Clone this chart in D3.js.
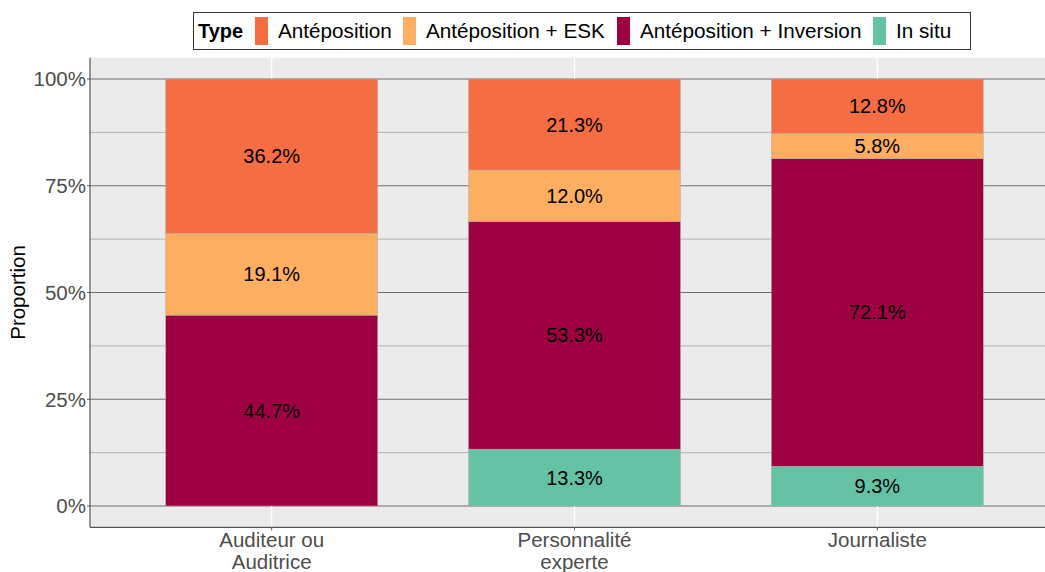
<!DOCTYPE html>
<html><head><meta charset="utf-8">
<script src="https://cdn.jsdelivr.net/npm/d3@7"></script>
<style>body{margin:0;background:#fff}svg{display:block;font-family:"Liberation Sans",Arial,sans-serif}</style>
</head><body><svg id="c" width="1045" height="572"></svg>
<script>
const categories = ["Auditeur ou\nAuditrice", "Personnalité\nexperte", "Journaliste"];
const types = ["Antéposition", "Antéposition + ESK", "Antéposition + Inversion", "In situ"];
const colors = ["#F46D43", "#FDAE61", "#9E0142", "#66C2A5"];
const anteposition = [36.2, 21.3, 12.8];
const antepositionESK = [19.1, 12.0, 5.8];
const antepositionInversion = [44.7, 53.3, 72.1];
const inSitu = [0, 13.3, 9.3];
const yTicks = [0, 0.25, 0.5, 0.75, 1];
const yTickLabels = ["0%", "25%", "50%", "75%", "100%"];

const series = [anteposition, antepositionESK, antepositionInversion, inSitu];
const svg = d3.select("#c");
const P = {l: 90, r: 1059, t: 57.65, b: 527.35};
const step = (P.r - P.l) / 3.2;
const x = d3.scaleBand().domain(categories).range([P.l + 0.1*step, P.r - 0.1*step]).paddingInner(0.3).paddingOuter(0.15);
const y = d3.scaleLinear().domain([-0.05, 1.05]).range([P.b, P.t]);

svg.append("rect").attr("x", P.l).attr("y", P.t).attr("width", P.r - P.l).attr("height", P.b - P.t).attr("fill", "#EBEBEB");
const minors = [0.125, 0.375, 0.625, 0.875];
svg.selectAll(".mg").data(minors).enter().append("line")
  .attr("x1", P.l).attr("x2", P.r).attr("y1", d => y(d)).attr("y2", d => y(d))
  .attr("stroke", "#9a9a9a").attr("stroke-width", 0.7);
svg.selectAll(".Mg").data(yTicks).enter().append("line")
  .attr("x1", P.l).attr("x2", P.r).attr("y1", d => y(d)).attr("y2", d => y(d))
  .attr("stroke", "#6e6e6e").attr("stroke-width", 1.2);
svg.selectAll(".vg").data(categories).enter().append("line")
  .attr("x1", d => x(d) + x.bandwidth()/2).attr("x2", d => x(d) + x.bandwidth()/2)
  .attr("y1", P.t).attr("y2", P.b).attr("stroke", "#fff").attr("stroke-width", 1.2);

const order = [3, 2, 1, 0];
categories.forEach((c, ci) => {
  let cum = 0;
  const total = series.reduce((s, a) => s + a[ci], 0);
  order.forEach(si => {
    const v = series[si][ci];
    if (!v) return;
    const y0 = cum / total, y1 = (cum + v) / total;
    cum += v;
    svg.append("rect").attr("x", x(c)).attr("width", x.bandwidth())
      .attr("y", y(y1)).attr("height", y(y0) - y(y1))
      .attr("fill", colors[si]).attr("stroke", "#b0b0b0").attr("stroke-width", 0.5);
    svg.append("text").attr("x", x(c) + x.bandwidth()/2).attr("y", y((y0 + y1)/2))
      .attr("dy", "0.35em").attr("text-anchor", "middle").attr("font-size", 20).attr("fill", "#000")
      .text(v.toFixed(1) + "%");
  });
});

svg.append("line").attr("x1", P.l).attr("x2", P.l).attr("y1", P.t).attr("y2", P.b).attr("stroke", "#555").attr("stroke-width", 1.2);
svg.append("line").attr("x1", P.l).attr("x2", P.r).attr("y1", P.b).attr("y2", P.b).attr("stroke", "#555").attr("stroke-width", 1.2);
yTicks.forEach((t, i) => {
  svg.append("line").attr("x1", P.l - 3).attr("x2", P.l).attr("y1", y(t)).attr("y2", y(t)).attr("stroke", "#555");
  svg.append("text").attr("x", P.l - 4).attr("y", y(t)).attr("dy", "0.36em").attr("text-anchor", "end")
    .attr("font-size", 20.5).attr("fill", "#4d4d4d").text(yTickLabels[i]);
});
categories.forEach(c => {
  const cx = x(c) + x.bandwidth()/2;
  svg.append("line").attr("x1", cx).attr("x2", cx).attr("y1", P.b).attr("y2", P.b + 3).attr("stroke", "#555");
  const t = svg.append("text").attr("x", cx).attr("y", P.b + 19.5).attr("text-anchor", "middle")
    .attr("font-size", 20.5).attr("fill", "#4d4d4d");
  c.split("\n").forEach((ln, i) => t.append("tspan").attr("x", cx).attr("dy", i ? 22.5 : 0).text(ln));
});
svg.append("text").attr("transform", `translate(24.7,${(P.t + P.b)/2}) rotate(-90)`).attr("text-anchor", "middle")
  .attr("font-size", 20.5).attr("fill", "#000").text("Proportion");

const lg = svg.append("g");
lg.append("rect").attr("x", 193.5).attr("y", 12.5).attr("width", 777).attr("height", 37).attr("fill", "#fff").attr("stroke", "#333").attr("stroke-width", 1);
lg.append("text").attr("x", 198).attr("y", 31).attr("dy", "0.36em").attr("font-size", 20).attr("font-weight", "bold").text("Type");
const swX = [255, 403, 617, 873];
types.forEach((t, i) => {
  lg.append("rect").attr("x", swX[i]).attr("y", 17).attr("width", 13).attr("height", 28).attr("fill", colors[i]);
  lg.append("text").attr("x", swX[i] + 23).attr("y", 31).attr("dy", "0.36em").attr("font-size", 20.7).attr("fill", "#000").text(t);
});
</script></body></html>
